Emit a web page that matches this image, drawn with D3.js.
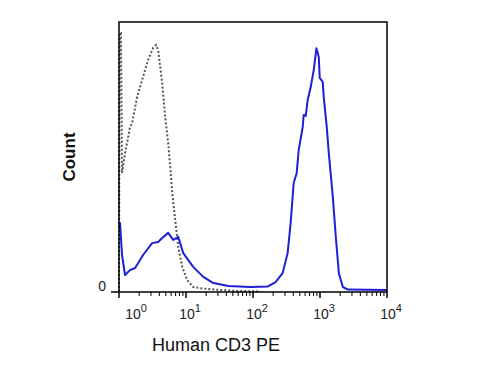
<!DOCTYPE html>
<html>
<head>
<meta charset="utf-8">
<script src="https://cdn.jsdelivr.net/npm/d3@7"></script>
<style>
  body { margin: 0; background: #fff; }
  svg text { font-family: "Liberation Sans", Arial, sans-serif; }
</style>
</head>
<body>
<div id="histogram"></div>
<script>
// Stained sample (blue) - intensity and count
const stainedIntensity = [1.02, 1.035, 1.11, 1.23, 1.46, 1.74, 2.29, 3.12, 3.84, 4.41, 5.42, 6.44, 7.66, 9.1,
  12.8, 18.1, 25.6, 43, 91.8, 165, 217, 277, 329, 365, 405, 449, 481, 552, 571, 612, 655, 727, 806, 885,
  958, 991, 1099, 1137, 1262, 1352, 1553, 1722, 1910, 2193, 2606, 10000];
const stainedCount = [23.7, 25.6, 13.7, 6.3, 8.1, 8.9, 13.7, 18.1, 18.5, 20.0, 21.9, 19.3, 20.4, 14.4,
  9.3, 5.6, 3.3, 2.2, 1.85, 2.0, 3.7, 7.0, 14.4, 25.6, 40.4, 44.1, 52.6, 61.1, 65.6, 65.2, 71.1, 75.9, 82.2, 90.3,
  87.0, 79.3, 77.8, 72.2, 61.1, 51.5, 35.2, 20.4, 7.0, 1.85, 0.9, 0.7];

// Isotype control (grey dotted)
const controlIntensity = [1.0, 1.02, 1.07, 1.11, 1.23, 1.32, 1.46, 1.57, 1.86, 2.21, 2.72, 3.23, 3.58, 3.84,
  4.41, 4.89, 5.42, 5.81, 6.23, 6.9, 7.66, 8.79, 10.4, 12.8, 17.5, 27.4, 54.7, 130];
const controlCount = [0, 95.9, 95.9, 44.1, 51.5, 55.2, 61.1, 62.6, 72.2, 78.5, 85.9, 90.4, 91.5, 89.6,
  77.4, 64.8, 55.2, 46.3, 36.7, 26.7, 16.7, 9.3, 4.4, 1.85, 1.3, 0.9, 0.4, 0.2];

const decades = [0, 1, 2, 3, 4];
const xTitle = "Human CD3 PE";
const yTitle = "Count";

const width = 500, height = 376;
const margin = { top: 22, right: 113, bottom: 84, left: 119 };

const svg = d3.select("#histogram").append("svg")
    .attr("width", width)
    .attr("height", height);

const x = d3.scaleLog()
    .domain([1, 10000])
    .range([margin.left, width - margin.right]);
const y = d3.scaleLinear()
    .domain([0, 100])
    .range([height - margin.bottom, margin.top]);

const line = d3.line()
    .x(d => x(d[0]))
    .y(d => y(d[1]));

// grey control curve first, blue on top
svg.append("path")
    .datum(d3.zip(controlIntensity, controlCount))
    .attr("d", line)
    .attr("fill", "none")
    .attr("stroke", "#555")
    .attr("stroke-width", 2)
    .attr("stroke-dasharray", "2,2");

svg.append("path")
    .datum(d3.zip(stainedIntensity, stainedCount))
    .attr("d", line)
    .attr("fill", "none")
    .attr("stroke", "#1f1fd6")
    .attr("stroke-width", 2)
    .attr("stroke-linejoin", "round");

// frame
svg.append("rect")
    .attr("x", x(1))
    .attr("y", y(100))
    .attr("width", x(10000) - x(1))
    .attr("height", y(0) - y(100))
    .attr("fill", "none")
    .attr("stroke", "#000")
    .attr("stroke-width", 1.5);

// log ticks: major at decades, minor at 2..9
const minor = [];
decades.slice(0, -1).forEach(p => {
    for (let k = 2; k <= 9; k++) minor.push(k * Math.pow(10, p));
});
const ax = svg.append("g");
ax.selectAll(".minor").data(minor).enter().append("line")
    .attr("x1", d => x(d)).attr("x2", d => x(d))
    .attr("y1", y(0)).attr("y2", y(0) + 4)
    .attr("stroke", "#000").attr("stroke-width", 1);
ax.selectAll(".major").data(decades).enter().append("line")
    .attr("x1", d => x(Math.pow(10, d))).attr("x2", d => x(Math.pow(10, d)))
    .attr("y1", y(0)).attr("y2", y(0) + 6)
    .attr("stroke", "#000").attr("stroke-width", 1.5);

// tick labels 10^n (first one pushed clear of the y axis)
const labels = ax.selectAll(".lab").data(decades).enter().append("text")
    .attr("x", d => x(Math.pow(10, d)) + (d === 0 ? 17 : 4))
    .attr("y", 319)
    .attr("text-anchor", "middle")
    .attr("font-size", 14)
    .attr("fill", "#222");
labels.append("tspan").text("10");
labels.append("tspan")
    .attr("dy", -7)
    .attr("font-size", 11)
    .text(d => d);

// y axis: only the zero tick
svg.append("line")
    .attr("x1", x(1) - 8).attr("x2", x(1))
    .attr("y1", y(0)).attr("y2", y(0))
    .attr("stroke", "#000").attr("stroke-width", 1.5);
svg.append("text")
    .attr("x", x(1) - 13)
    .attr("y", y(0) - 1)
    .attr("text-anchor", "end")
    .attr("font-size", 14)
    .attr("fill", "#222")
    .text("0");

// axis titles
svg.append("text")
    .attr("x", 152)
    .attr("y", 351)
    .attr("font-size", 18)
    .attr("fill", "#111")
    .text(xTitle);
svg.append("text")
    .attr("transform", "translate(75,157) rotate(-90)")
    .attr("text-anchor", "middle")
    .attr("font-size", 17)
    .attr("font-weight", "bold")
    .attr("fill", "#111")
    .text(yTitle);
</script>
</body>
</html>
